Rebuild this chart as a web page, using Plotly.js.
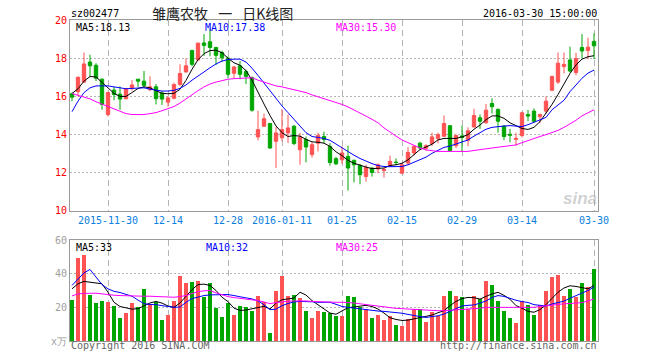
<!DOCTYPE html>
<html><head><meta charset="utf-8">
<script src="https://cdn.plot.ly/plotly-3.0.1.min.js"></script>
<style>html,body{margin:0;padding:0;background:#fff;}#chart{width:660px;height:360px;}</style>
</head><body><div id="chart"></div>
<script>
var dates = ['2015-11-20','2015-11-23','2015-11-24','2015-11-25','2015-11-26','2015-11-27','2015-11-30',
'2015-12-01','2015-12-02','2015-12-03','2015-12-04','2015-12-07','2015-12-08','2015-12-09','2015-12-10','2015-12-11','2015-12-14',
'2015-12-15','2015-12-16','2015-12-17','2015-12-18','2015-12-21','2015-12-22','2015-12-23','2015-12-24','2015-12-25','2015-12-28',
'2015-12-29','2015-12-30','2015-12-31','2016-01-04','2016-01-05','2016-01-06','2016-01-07','2016-01-08','2016-01-11',
'2016-01-12','2016-01-13','2016-01-14','2016-01-15','2016-01-18','2016-01-19','2016-01-20','2016-01-21','2016-01-22','2016-01-25',
'2016-01-26','2016-01-27','2016-01-28','2016-01-29','2016-02-01','2016-02-02','2016-02-03','2016-02-04','2016-02-05','2016-02-15',
'2016-02-16','2016-02-17','2016-02-18','2016-02-19','2016-02-22','2016-02-23','2016-02-24','2016-02-25','2016-02-26','2016-02-29',
'2016-03-01','2016-03-02','2016-03-03','2016-03-04','2016-03-07','2016-03-08','2016-03-09','2016-03-10','2016-03-11','2016-03-14',
'2016-03-15','2016-03-16','2016-03-17','2016-03-18','2016-03-21','2016-03-22','2016-03-23','2016-03-24','2016-03-25','2016-03-28',
'2016-03-29','2016-03-30'];

var open = [16.14,16.25,16.75,17.8,17.63,16.9,15.05,16.33,16.12,15.88,16.42,16.9,16.8,16.35,16.5,16.18,15.7,
15.9,16.63,17.28,18.4,17.91,18.8,18.86,18.56,18.3,18.0,17.21,17.6,17.3,16.98,13.88,14.44,14.58,13.65,13.83,
14.09,14.44,13.21,13.74,12.95,13.55,13.9,13.38,12.74,12.68,12.86,12.65,12.38,11.8,12.25,12.2,12.12,12.37,12.56,11.98,
12.51,13.04,13.55,13.28,13.53,13.79,13.91,14.47,13.42,13.93,13.7,14.4,14.88,14.62,15.63,15.32,14.44,14.02,13.75,13.95,
15.05,15.23,14.93,15.23,16.32,16.75,17.56,17.91,17.25,18.56,18.4,18.88];
var high = [16.2,17.05,18.3,18.18,17.74,16.95,16.25,16.5,16.52,16.45,16.85,16.92,17.33,17.05,16.65,16.28,16.02,
16.72,17.68,17.98,18.45,18.82,19.26,19.56,18.6,18.4,18.1,17.6,17.85,17.4,17.05,15.25,15.1,14.6,14.4,15.32,
15.05,14.5,14.09,13.9,13.6,14.1,14.15,13.56,12.84,13.39,13.42,12.7,12.47,12.42,12.27,12.5,12.25,12.9,12.75,12.5,
13.34,13.43,13.62,13.5,14.1,14.1,15.0,14.47,14.0,14.47,14.38,15.35,15.05,15.6,15.9,15.37,14.5,14.3,14.1,15.2,
15.3,15.37,15.1,16.0,17.1,18.3,18.3,18.6,18.28,19.26,19.07,19.3];
var low = [15.75,16.0,16.7,17.04,16.8,15.3,14.95,15.8,15.3,15.84,16.3,16.5,16.46,16.28,15.58,15.55,15.46,
15.85,16.54,17.25,17.58,17.86,18.12,18.1,17.65,17.8,16.95,16.95,16.9,16.65,15.2,13.7,14.4,13.25,12.25,13.65,
13.56,13.45,12.42,12.55,12.8,13.12,13.56,12.37,12.4,12.47,11.07,11.5,11.4,11.54,11.8,11.98,11.75,12.3,12.4,11.95,
12.4,12.9,13.2,13.15,13.4,13.55,13.88,13.15,13.3,13.1,13.4,14.38,14.3,14.57,15.1,14.1,13.7,13.6,13.42,13.85,
14.7,14.6,14.6,15.1,16.28,16.65,17.2,17.25,17.1,17.98,17.95,17.95];
var close = [15.96,17.0,17.7,17.6,16.95,15.58,16.2,16.1,15.86,16.4,16.6,16.8,16.58,16.5,15.88,15.86,15.92,
16.62,17.2,17.6,17.68,18.79,18.67,18.56,18.15,18.02,17.16,17.54,17.16,17.05,15.28,14.26,14.83,13.3,14.09,14.26,
14.35,13.53,13.88,13.35,13.47,13.95,13.74,12.54,12.47,13.04,12.25,12.42,11.9,12.28,12.02,12.42,12.18,12.6,12.54,12.42,
13.07,13.38,13.3,13.42,13.88,14.0,14.58,13.17,13.95,13.85,14.2,15.0,14.7,15.28,15.46,14.7,13.9,13.97,13.8,15.14,
14.97,14.7,15.05,15.75,17.04,17.74,17.68,17.33,17.98,18.38,18.58,18.65];

var ma5 = [16.15,16.4,16.8,17.04,17.02,16.73,16.42,16.16,16.0,16.0,16.2,16.42,16.5,16.45,16.3,16.16,16.14,
16.16,16.37,16.84,17.42,17.92,18.24,18.4,18.42,18.29,18.0,17.76,17.63,17.35,16.85,16.2,15.6,15.0,14.45,14.1,
13.9,13.95,13.92,13.75,13.62,13.6,13.55,13.38,13.1,12.9,12.65,12.5,12.38,12.3,12.22,12.22,12.25,12.38,12.42,12.5,
12.68,12.95,13.22,13.35,13.5,13.72,13.8,13.8,13.8,13.88,14.0,14.28,14.5,14.78,14.98,14.98,14.85,14.62,14.47,14.32,
14.27,14.38,14.68,15.1,15.58,16.1,16.63,17.2,17.65,17.95,18.08,18.13];
var ma10 = [15.2,15.75,16.2,16.45,16.55,16.55,16.55,16.5,16.45,16.4,16.42,16.45,16.45,16.38,16.32,16.28,16.28,
16.32,16.42,16.6,16.85,17.05,17.28,17.5,17.7,17.85,17.93,17.95,17.95,17.8,17.48,17.1,16.7,16.25,15.85,15.5,
15.15,14.8,14.45,14.1,13.9,13.85,13.8,13.7,13.5,13.32,13.12,12.92,12.75,12.6,12.48,12.38,12.33,12.32,12.32,12.33,
12.42,12.55,12.65,12.82,13.02,13.18,13.33,13.4,13.5,13.62,13.72,13.92,14.08,14.28,14.38,14.43,14.45,14.47,14.45,14.42,
14.52,14.65,14.75,14.9,15.3,15.55,15.8,16.25,16.62,16.95,17.22,17.38];
var ma30 = [16.15,16.05,15.97,15.87,15.72,15.6,15.45,15.32,15.2,15.1,15.05,15.04,15.05,15.1,15.15,15.25,15.35,
15.47,15.65,15.88,16.1,16.3,16.5,16.65,16.75,16.83,16.9,16.93,16.96,16.98,16.98,16.85,16.75,16.62,16.55,16.5,
16.43,16.37,16.3,16.2,16.08,15.98,15.9,15.78,15.68,15.58,15.45,15.3,15.15,14.97,14.8,14.62,14.35,14.12,13.92,13.72,
13.57,13.42,13.3,13.2,13.15,13.12,13.12,13.12,13.12,13.1,13.12,13.17,13.22,13.26,13.3,13.34,13.38,13.42,13.46,13.58,
13.7,13.8,13.9,14.0,14.1,14.22,14.38,14.55,14.75,14.98,15.15,15.3];

var volume = [24.6,49.4,51,27.6,22.4,24,23.4,20.6,13.4,16.8,22.4,20,30.8,22,23.4,12.2,15.2,
24,38.6,34.6,35,35.4,26.4,34.4,19.6,14,22.6,15.4,20.6,20,17.6,26.6,23.4,5,30,38.6,
27,27.6,25.4,18,13.4,18,17,16.6,15,14.6,27,26.4,20,19,13.4,15.6,12.2,15,9.6,9,
13,19,19,11.4,17.4,15,27,30,27,26.4,19,27,25,35.4,33,24,18,13.8,10.8,24,
21.4,15.6,21.6,30,38,39,27,30.6,26.4,34.6,32,42.6];
var vma5 = [31,34,35.4,35,34.8,34,29,23,20.5,19.6,18.9,19.2,21,22.6,23.5,22.5,20.8,
20,22.6,26.5,30.5,33.5,33.8,33,30,26,23.4,19.5,18.2,18.4,19.2,20.2,20.6,19,22.5,24.5,
25,25.5,29,27.3,24,21.5,19.5,16.6,15.9,18,19.8,20.2,20.6,21.2,20.5,19,16.6,13.8,12.8,12.2,
12.4,13.2,13.8,14.6,15.4,16.8,18,21,23.5,25.2,25.9,25.7,24.9,26.5,28,28.9,27.1,24.8,21,19.5,
17.6,17.1,18.7,21.6,25.3,29,31.5,32.8,32.4,31.5,31,33];
var vma10 = [33,37,40.5,42.5,38,33.5,31,29.5,28.8,27.8,26.6,24.3,22.2,21.7,21.6,21,20.4,
20,20.2,23,25.2,26.3,27,27.4,27.5,27.8,27.6,27,26.5,25.6,25,23.8,21.5,18.6,18.9,21,
22.3,23.2,23.5,23.5,23.3,23,22.8,23,21.8,20.5,20,19.5,19.3,18.7,18,17.8,17.6,17.3,17,16.5,
15.8,15,14.5,14,14.4,15,16,17.6,19.5,20.8,21.2,21.4,22.5,23.8,25.8,27,26.5,25.3,24.2,23.4,
22.9,21.6,21,20.8,22,22.9,23.7,25.4,26.8,28.4,30,32];
var vma30 = [26.8,28,28.3,28.4,28.4,28,27.5,27.2,27,26.8,26.6,26.6,26.6,26.6,26.5,26.3,26,
26,26.4,27,28.2,29.3,29.8,30,28.6,27.5,26.4,25.8,25.4,25,24.6,24,23.2,22.2,22.8,23.4,
23.6,23.8,24,23.8,23.5,23.3,23,23,23,23,23,22.6,22.1,21.6,21.1,20.6,20.2,19.8,19.4,19.2,
19,18.7,18.4,18,18,18,18,18.2,18.4,18.6,18.8,19,19.5,20,20,20,20,20,19.8,19.6,
19.6,20,20.5,21,21.4,21.9,22.1,22.3,22.5,22.8,23.8,25];

var tickDates = ['2015-11-30','2015-12-14','2015-12-28','2016-01-11','2016-01-25','2016-02-15','2016-02-29','2016-03-14','2016-03-30'];
var tickLabels = ['2015-11-30','12-14','12-28','2016-01-11','01-25','02-15','02-29','03-14','03-30'];
var priceTicks = [10,12,14,16,18,20];
var volTicks = [0,20,40];
var volTickLabels = ['x万','20','40'];
var volTopLabel = '60';
var volMax = 60;

var stockCode = 'sz002477';
var chartTitle = '雏鹰农牧\u2002 一\u2002 日K线图';
var timeStamp = '2016-03-30 15:00:00';

var RED = '#ff5252', GREEN = '#00a600';
var volColors = close.map(function(c, i){ return c >= open[i] ? RED : GREEN; });

var mono = 'DejaVu Sans Mono, monospace';
var traces = [
  {type:'candlestick', x:dates, open:open, high:high, low:low, close:close,
   xaxis:'x', yaxis:'y', line:{width:1},
   increasing:{line:{color:RED, width:1}, fillcolor:RED},
   decreasing:{line:{color:GREEN, width:1}, fillcolor:GREEN},
   hoverinfo:'skip'},
  {type:'scatter', mode:'lines', x:dates, y:ma5, xaxis:'x', yaxis:'y', line:{color:'#000000', width:1}, hoverinfo:'skip'},
  {type:'scatter', mode:'lines', x:dates, y:ma10, xaxis:'x', yaxis:'y', line:{color:'#0000ff', width:1}, hoverinfo:'skip'},
  {type:'scatter', mode:'lines', x:dates, y:ma30, xaxis:'x', yaxis:'y', line:{color:'#ff00ff', width:1}, hoverinfo:'skip'},
  {type:'bar', x:dates, y:volume, xaxis:'x2', yaxis:'y2', marker:{color:volColors, line:{width:0}}, width:0.82, hoverinfo:'skip'},
  {type:'scatter', mode:'lines', x:dates, y:vma5, xaxis:'x2', yaxis:'y2', line:{color:'#000000', width:1}, hoverinfo:'skip'},
  {type:'scatter', mode:'lines', x:dates, y:vma10, xaxis:'x2', yaxis:'y2', line:{color:'#0000ff', width:1}, hoverinfo:'skip'},
  {type:'scatter', mode:'lines', x:dates, y:vma30, xaxis:'x2', yaxis:'y2', line:{color:'#ff00ff', width:1}, hoverinfo:'skip'}
];

var xr = [-0.333, 87.667];
var gridC = '#b4b4b4', lineC = '#9a9a9a';
function px(x){ return (x-70)/528; }
function py(y){ return (341-y)/321; }
function ann(text, x, y, anchor, color, size, fam){
  return {text:text, xref:'paper', yref:'paper', x:px(x), y:py(y), xanchor:anchor, yanchor:'middle',
    showarrow:false, borderpad:0, font:{family:fam||mono, size:size||10, color:color}};
}
var last = close.length - 1;
var volTopAnn = {text:volTopLabel, xref:'paper', yref:'y2', x:px(67.5), y:volMax, xanchor:'right', yanchor:'middle',
  showarrow:false, borderpad:0, font:{family:mono, size:10, color:'#a0a0a0'}};
var layout = {
  width:660, height:360, margin:{l:70, r:62, t:20, b:19},
  paper_bgcolor:'#ffffff', plot_bgcolor:'#ffffff', showlegend:false, bargap:0, boxgap:0.2,
  xaxis:{type:'category', range:xr, domain:[0,1], anchor:'y', rangeslider:{visible:false},
    tickmode:'array', tickvals:tickDates, ticktext:tickLabels, ticks:'',
    tickfont:{family:mono, size:10, color:'#0a80e0'},
    showgrid:true, gridcolor:gridC, griddash:'6px,4px', gridwidth:1,
    showline:true, mirror:true, linecolor:lineC, linewidth:1, zeroline:false, fixedrange:true},
  yaxis:{domain:[0.405,1], range:[10,20.001], tickmode:'array', tickvals:priceTicks, ticks:'',
    tickfont:{family:mono, size:10, color:'#ff0000'},
    showgrid:true, gridcolor:gridC, griddash:'2px,2px', gridwidth:1,
    showline:true, mirror:true, linecolor:lineC, linewidth:1, zeroline:false, fixedrange:true},
  xaxis2:{type:'category', range:xr, domain:[0,1], anchor:'y2', matches:'x',
    tickmode:'array', tickvals:tickDates, showticklabels:false, ticks:'',
    showgrid:true, gridcolor:gridC, griddash:'6px,4px', gridwidth:1,
    showline:true, mirror:true, linecolor:lineC, linewidth:1, zeroline:false, fixedrange:true},
  yaxis2:{domain:[0,0.3146], range:[0,volMax], tickmode:'array', tickvals:volTicks, ticktext:volTickLabels, ticks:'',
    tickfont:{family:mono, size:10, color:'#a0a0a0'},
    showgrid:true, gridcolor:gridC, griddash:'2px,2px', gridwidth:1,
    showline:true, mirror:true, linecolor:lineC, linewidth:1, zeroline:false, fixedrange:true},
  annotations:[
    ann(stockCode, 70, 13, 'left', '#000000', 10),
    ann(chartTitle, 151, 13, 'left', '#222222', 14, 'Noto Sans CJK SC'),
    ann(timeStamp, 597.5, 13, 'right', '#000000', 10),
    ann('MA5:' + ma5[last].toFixed(2), 75, 27, 'left', '#000000', 10),
    ann('MA10:' + ma10[last].toFixed(2), 204, 27, 'left', '#0000ff', 10),
    ann('MA30:' + ma30[last].toFixed(2), 334.5, 27, 'left', '#ff00ff', 10),
    ann('MA5:' + Math.round(vma5[last]), 75, 247, 'left', '#000000', 10),
    ann('MA10:' + Math.round(vma10[last]), 204.5, 247, 'left', '#0000ff', 10),
    ann('MA30:' + Math.round(vma30[last]), 334.5, 247, 'left', '#ff00ff', 10),
    ann('Copyright 2016 SINA.COM', 70, 346, 'left', '#666666', 10),
    ann('http://finance.sina.com.cn', 597.5, 346, 'right', '#666666', 10),
    ann('<b><i>sina</i></b>', 580, 198, 'center', 'rgba(150,150,150,0.45)', 17, 'Liberation Sans'),
    volTopAnn
  ]
};
Plotly.newPlot('chart', traces, layout, {staticPlot:true, displayModeBar:false});
</script>
</body></html>
